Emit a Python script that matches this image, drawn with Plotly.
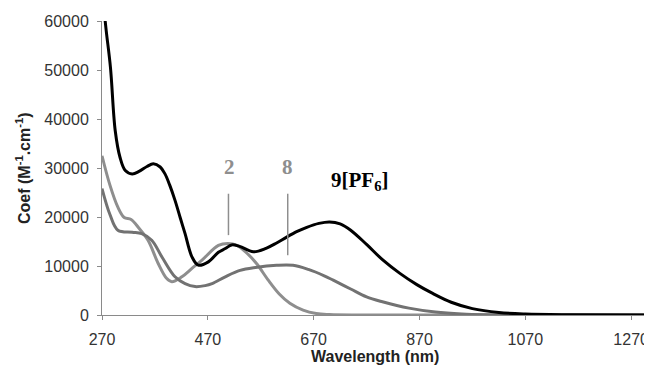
import plotly.graph_objects as go

# 9[PF6] (black)
wl_9 = [270, 278, 286, 295, 304, 314, 327, 340, 355, 367, 380, 389, 398, 408, 418, 427,
        440, 452, 471, 490, 503, 515, 530, 556, 580, 600, 619, 640, 657, 680, 700, 720,
        740, 770, 800, 833, 865, 895, 930, 970, 1020, 1070, 1150, 1300]
coef_9 = [66000, 58000, 50500, 37600, 32200, 29500, 28800, 29300, 30300, 30850, 30200, 28800,
          26500, 23400, 19800, 16600, 11860, 10170, 10840, 12800, 13560, 14300, 14000, 12900,
          13600, 14700, 15900, 17100, 17900, 18700, 19000, 18600, 17300, 14400, 11300, 8500,
          6200, 4400, 2600, 1300, 500, 200, 60, 0]

# 2 (light gray)
wl_2 = [270, 285, 300, 312, 325, 340, 357, 376, 392, 402, 421, 440, 459, 490, 508, 525,
        545, 562, 585, 605, 625, 650, 675, 700, 750, 1300]
coef_2 = [32500, 26500, 22000, 19900, 19500, 17700, 15250, 10570, 7500, 6800, 7800, 9500,
          11200, 14200, 14600, 14200, 12500, 10500, 7000, 4300, 2400, 1000, 300, 100, 0, 0]

# 8 (darker gray)
wl_8 = [270, 285, 300, 327, 345, 364, 383, 408, 427, 446, 465, 478, 503, 531, 560, 600,
        631, 660, 690, 707, 740, 770, 800, 850, 900, 950, 1000, 1050, 1300]
coef_8 = [25800, 20500, 17300, 16900, 16600, 15250, 11900, 7800, 6400, 5800, 6000, 6400,
          7800, 9100, 9700, 10150, 10150, 9300, 8000, 7100, 5300, 3700, 2700, 1400, 600,
          200, 50, 0, 0]

x_ticks = [270, 470, 670, 870, 1070, 1270]
y_ticks = [0, 10000, 20000, 30000, 40000, 50000, 60000]

# label marker lines (wavelength, y from, y to)
marker_2 = (509, 16300, 24750)
marker_8 = (621, 12200, 24750)

fig = go.Figure()
fig.add_trace(go.Scatter(x=wl_2, y=coef_2, mode="lines",
                         line=dict(color="#8e8e8e", width=3, shape="spline", smoothing=1)))
fig.add_trace(go.Scatter(x=wl_8, y=coef_8, mode="lines",
                         line=dict(color="#727272", width=3, shape="spline", smoothing=1)))
fig.add_trace(go.Scatter(x=wl_9, y=coef_9, mode="lines",
                         line=dict(color="#000000", width=3, shape="spline", smoothing=1)))

for xm, y0, y1 in (marker_2, marker_8):
    fig.add_shape(type="line", x0=xm, x1=xm, y0=y0, y1=y1, xref="x", yref="y",
                  line=dict(color="#8e8e8e", width=1.5))

fig.add_annotation(x=511, y=30200, text="<b>2</b>", showarrow=False,
                   font=dict(family="Liberation Serif", size=21, color="#8e8e8e"))
fig.add_annotation(x=621, y=30200, text="<b>8</b>", showarrow=False,
                   font=dict(family="Liberation Serif", size=21, color="#8e8e8e"))
fig.add_annotation(x=757, y=27300, text="<b>9[PF<sub>6</sub>]</b>", showarrow=False,
                   font=dict(family="Liberation Serif", size=21, color="#000000"))

# axis titles
fig.add_annotation(xref="paper", yref="paper", x=0.5, y=-0.14, xanchor="center",
                   yanchor="middle", showarrow=False, text="<b>Wavelength (nm)</b>",
                   font=dict(family="Liberation Sans", size=16, color="#222222"))
fig.add_annotation(xref="paper", yref="paper", x=-0.145, y=0.5, xanchor="center",
                   yanchor="middle", showarrow=False, textangle=-90,
                   text="<b>Coef (M<sup>-1</sup>.cm<sup>-1</sup>)</b>",
                   font=dict(family="Liberation Sans", size=16, color="#222222"))

# page body adds an 8px offset, so the figure is sized to compensate
fig.update_layout(
    width=644, height=358,
    margin=dict(l=94, r=5, t=13, b=51),
    paper_bgcolor="white", plot_bgcolor="white",
    showlegend=False,
    font=dict(family="Liberation Sans", size=16, color="#333333"),
)
fig.update_xaxes(range=[270, 1300], tickvals=x_ticks, ticktext=[str(v) for v in x_ticks],
                 showgrid=False, zeroline=False, showline=True, linecolor="#8a8a8a",
                 linewidth=1, ticks="outside", ticklen=4, tickcolor="#8a8a8a",
                 ticklabelstandoff=6, automargin=False)
fig.update_yaxes(range=[0, 60000], tickvals=y_ticks, ticktext=[str(v) for v in y_ticks],
                 showgrid=False, zeroline=False, showline=True, linecolor="#8a8a8a",
                 linewidth=1, ticks="outside", ticklen=4, tickcolor="#8a8a8a",
                 ticklabelstandoff=5, automargin=False)

fig.write_html("out.html")
